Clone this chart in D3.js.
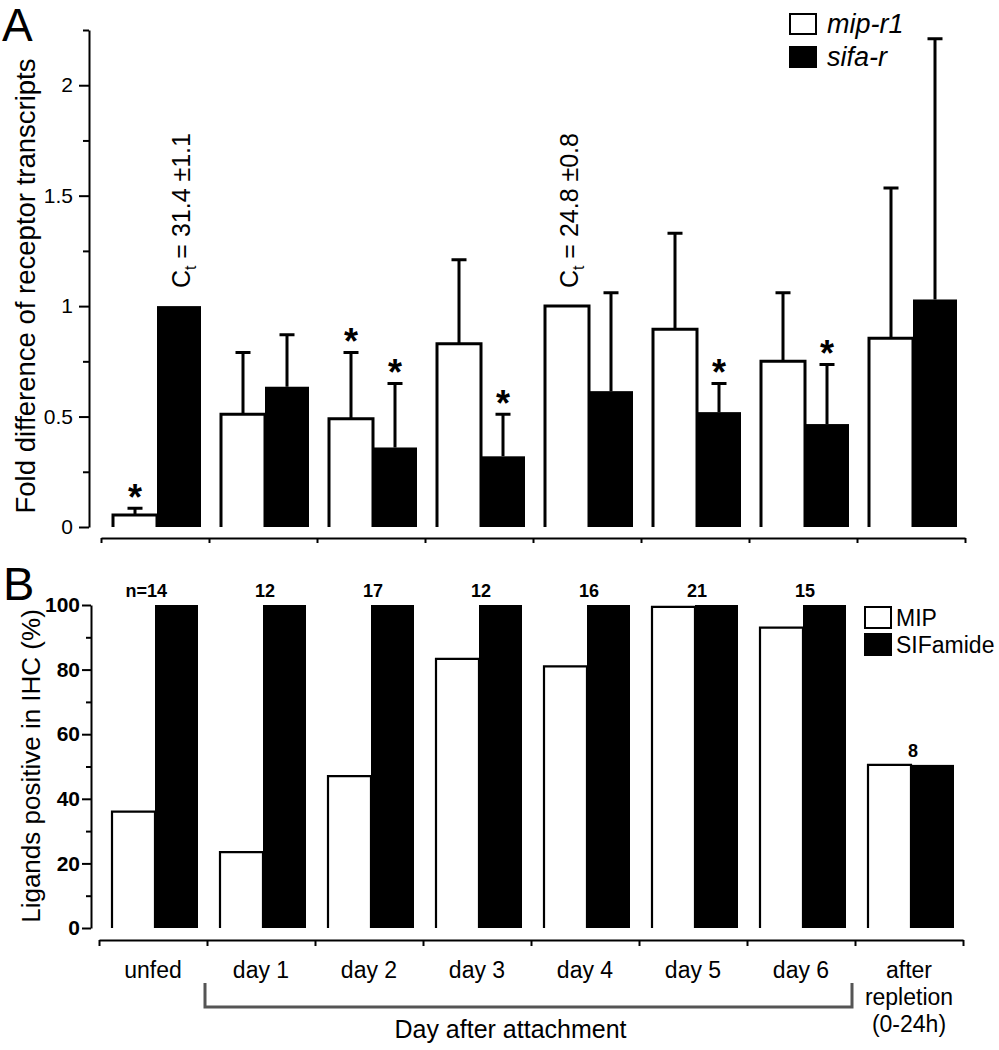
<!DOCTYPE html>
<html><head><meta charset="utf-8">
<script src="https://cdn.jsdelivr.net/npm/d3@7"></script>
<style>body{margin:0;background:#fff} svg{display:block} text{font-family:"Liberation Sans",Arial,Helvetica,sans-serif;fill:#000}</style>
</head><body><svg id="c" width="999" height="1050"></svg>
<script>
// ---------- data ----------
const groups = ["unfed","day 1","day 2","day 3","day 4","day 5","day 6","after\nrepletion\n(0-24h)"];
// Panel A: fold difference of receptor transcripts
const mipR1 = [0.054, 0.51, 0.49, 0.83, 1.0, 0.895, 0.75, 0.855];
const mipR1Err = [0.031, 0.28, 0.30, 0.38, 0, 0.435, 0.31, 0.68];
const sifaR = [1.0, 0.635, 0.36, 0.32, 0.615, 0.52, 0.466, 1.03];
const sifaRErr = [0, 0.235, 0.29, 0.19, 0.445, 0.13, 0.27, 1.18];
const starMip = [1,0,1,0,0,0,0,0];
const starSifa = [0,0,1,1,0,1,1,0];
const ctNotes = [{g:0, s:"sifa", t:" = 31.4 \u00b11.1"}, {g:4, s:"mip", t:" = 24.8 \u00b10.8"}];
const ticksA = [0, 0.5, 1, 1.5, 2];
const minorA = [0.25, 0.75, 1.25, 1.75, 2.25];
// Panel B: ligands positive in IHC (%)
const mipPct = [36, 23.5, 47, 83.3, 81, 99.4, 93, 50.5];
const sifaPct = [100, 100, 100, 100, 100, 100, 100, 50.5];
const nValues = [14, 12, 17, 12, 16, 21, 15, 8];
const ticksB = [0, 20, 40, 60, 80, 100];
const minorB = [10, 30, 50, 70, 90];

const svg = d3.select("#c");

// ---------- Panel A ----------
const xA = d3.scaleBand().domain(d3.range(groups.length)).range([101, 965]);
const sA = d3.scaleBand().domain(["mip","sifa"]).range([12, 100]);
const yA = d3.scaleLinear().domain([0, 2.25]).range([527, 30]);
const gA = svg.append("g");

// y axis
const axA = gA.append("g").attr("transform","translate(89,0)")
  .call(d3.axisLeft(yA).tickValues(ticksA).tickSize(10).tickSizeOuter(0).tickPadding(6).tickFormat(d=>String(d)));
axA.select(".domain").attr("stroke-width",2);
axA.selectAll(".tick line").attr("stroke-width",2);
axA.selectAll(".tick text").attr("font-size",21).attr("font-family",null);
const axAm = gA.append("g").attr("transform","translate(89,0)")
  .call(d3.axisLeft(yA).tickValues(minorA).tickSize(6).tickSizeOuter(0).tickFormat(""));
axAm.select(".domain").remove();
axAm.selectAll(".tick line").attr("stroke-width",2);

// x axis (group boundaries)
const bA = d3.scaleLinear().domain([0, groups.length]).range(xA.range());
const axAx = gA.append("g").attr("transform","translate(0,538)")
  .call(d3.axisBottom(bA).ticks(groups.length).tickSize(5).tickSizeOuter(0).tickFormat(""));
axAx.select(".domain").attr("stroke-width",2);
axAx.selectAll(".tick line").attr("stroke-width",2);

// white bars (open at bottom)
gA.selectAll("path.mip").data(mipR1).join("path").attr("class","mip")
  .attr("d",(v,i)=>{const x0=xA(i)+sA("mip"), x1=x0+sA.bandwidth(); return `M${x0},${yA(0)}V${yA(v)}H${x1}V${yA(0)}`;})
  .attr("fill","#fff").attr("stroke","#000").attr("stroke-width",3);
// black bars
gA.selectAll("rect.sifa").data(sifaR).join("rect").attr("class","sifa")
  .attr("x",(v,i)=>xA(i)+sA("sifa")).attr("width",sA.bandwidth())
  .attr("y",v=>yA(v)).attr("height",v=>yA(0)-yA(v)).attr("fill","#000");

// error bars
function errBars(vals, errs, key){
  const d = vals.map((v,i)=>({v, e:errs[i], cx:xA(i)+sA(key)+sA.bandwidth()/2})).filter(d=>d.e>0);
  gA.selectAll("path.err"+key).data(d).join("path").attr("class","err"+key)
    .attr("d",d=>`M${d.cx},${yA(d.v)}V${yA(d.v+d.e)}M${d.cx-7.5},${yA(d.v+d.e)}H${d.cx+7.5}`)
    .attr("stroke","#000").attr("stroke-width",3).attr("fill","none");
}
errBars(mipR1, mipR1Err, "mip");
errBars(sifaR, sifaRErr, "sifa");

// stars
function stars(vals, errs, flags, key){
  const d = vals.map((v,i)=>({top:v+errs[i], cx:xA(i)+sA(key)+sA.bandwidth()/2, f:flags[i]})).filter(d=>d.f);
  gA.selectAll("text.star"+key).data(d).join("text").attr("class","star"+key)
    .attr("x",d=>d.cx).attr("y",d=>yA(d.top)+2).attr("text-anchor","middle")
    .attr("font-size",36).attr("font-weight","bold").text("*");
}
stars(mipR1, mipR1Err, starMip, "mip");
stars(sifaR, sifaRErr, starSifa, "sifa");

// Ct annotations
ctNotes.forEach(n=>{
  const v = n.s==="mip" ? mipR1[n.g] : sifaR[n.g];
  const cx = xA(n.g)+sA(n.s)+sA.bandwidth()/2;
  const t = gA.append("text").attr("transform",`translate(${cx+11},${yA(v)-18}) rotate(-90)`)
    .attr("font-size",25);
  t.append("tspan").text("C");
  t.append("tspan").attr("font-size",16).attr("dy",6).text("t");
  t.append("tspan").attr("dy",-6).text(n.t);
});

// y title
gA.append("text").attr("transform","translate(35,286) rotate(-90)").attr("text-anchor","middle")
  .attr("font-size",27.5).text("Fold difference of receptor transcripts");
// panel letter
svg.append("text").attr("x",2).attr("y",41).attr("font-size",46).text("A");

// legend A
const legA = [{k:"mip-r1", f:"#fff", y:13},{k:"sifa-r", f:"#000", y:46}];
legA.forEach(l=>{
  gA.append("rect").attr("x",790).attr("y",l.y+1).attr("width",26).attr("height",20)
    .attr("fill",l.f).attr("stroke","#000").attr("stroke-width",2);
  gA.append("text").attr("x",827).attr("y",l.y+20).attr("font-size",27).attr("font-style","italic").text(l.k);
});

// ---------- Panel B ----------
const xB = d3.scaleBand().domain(d3.range(groups.length)).range([99, 963]);
const sB = d3.scaleBand().domain(["mip","sifa"]).range([13, 99]);
const yB = d3.scaleLinear().domain([0, 100]).range([928, 605]);
const gB = svg.append("g");

const axB = gB.append("g").attr("transform","translate(91,0)")
  .call(d3.axisLeft(yB).tickValues(ticksB).tickSize(9).tickSizeOuter(0).tickPadding(2));
axB.select(".domain").attr("stroke-width",2);
axB.selectAll(".tick line").attr("stroke-width",2);
axB.selectAll(".tick text").attr("font-size",21).attr("font-weight","bold").attr("font-family",null);
const axBm = gB.append("g").attr("transform","translate(91,0)")
  .call(d3.axisLeft(yB).tickValues(minorB).tickSize(5).tickSizeOuter(0).tickFormat(""));
axBm.select(".domain").remove();
axBm.selectAll(".tick line").attr("stroke-width",2);

const bB = d3.scaleLinear().domain([0, groups.length]).range(xB.range());
const axBx = gB.append("g").attr("transform","translate(0,940)")
  .call(d3.axisBottom(bB).ticks(groups.length).tickSize(6).tickSizeOuter(0).tickFormat(""));
axBx.select(".domain").attr("stroke-width",2);
axBx.selectAll(".tick line").attr("stroke-width",2);

gB.selectAll("path.mip").data(mipPct).join("path").attr("class","mip")
  .attr("d",(v,i)=>{const x0=xB(i)+sB("mip"), x1=x0+sB.bandwidth(); return `M${x0},${yB(0)}V${yB(v)}H${x1}V${yB(0)}`;})
  .attr("fill","#fff").attr("stroke","#000").attr("stroke-width",2.2);
gB.selectAll("rect.sifa").data(sifaPct).join("rect").attr("class","sifa")
  .attr("x",(v,i)=>xB(i)+sB("sifa")).attr("width",sB.bandwidth())
  .attr("y",v=>yB(v)).attr("height",v=>yB(0)-yB(v)).attr("fill","#000");

// n labels
gB.selectAll("text.n").data(nValues).join("text").attr("class","n")
  .attr("x",(v,i)=>xB(i)+58).attr("y",(v,i)=>yB(Math.max(mipPct[i],sifaPct[i]))-8)
  .attr("text-anchor","middle").attr("font-size",18).attr("font-weight","bold").text(v=>v);
gB.append("text").attr("x",xB(0)+48).attr("y",yB(Math.max(mipPct[0],sifaPct[0]))-8)
  .attr("text-anchor","end").attr("font-size",18).attr("font-weight","bold").text("n=");

// x labels
groups.forEach((g,i)=>{
  const lines = g.split("\n");
  const t = gB.append("text").attr("text-anchor","middle").attr("font-size",23);
  lines.forEach((l,j)=>t.append("tspan").attr("x",xB(i)+xB.bandwidth()/2).attr("y",978+j*27).text(l));
});
// bracket
const bx0 = bB(1)-2, bx1 = bB(7)-3;
gB.append("path").attr("d",`M${bx0},983V1007H${bx1}V983`).attr("fill","none")
  .attr("stroke","#555").attr("stroke-width",3);
gB.append("text").attr("x",(bx0+bx1)/2-18).attr("y",1038).attr("text-anchor","middle")
  .attr("font-size",25).text("Day after attachment");

// y title B
gB.append("text").attr("transform","translate(40,766) rotate(-90)").attr("text-anchor","middle")
  .attr("font-size",26).text("Ligands positive in IHC (%)");
svg.append("text").attr("x",3).attr("y",600).attr("font-size",47).text("B");

// legend B
const legB = [{k:"MIP", f:"#fff", y:606},{k:"SIFamide", f:"#000", y:633}];
legB.forEach(l=>{
  gB.append("rect").attr("x",865).attr("y",l.y+1).attr("width",26).attr("height",21)
    .attr("fill",l.f).attr("stroke","#000").attr("stroke-width",2);
  gB.append("text").attr("x",896).attr("y",l.y+20).attr("font-size",23).text(l.k);
});
</script></body></html>
